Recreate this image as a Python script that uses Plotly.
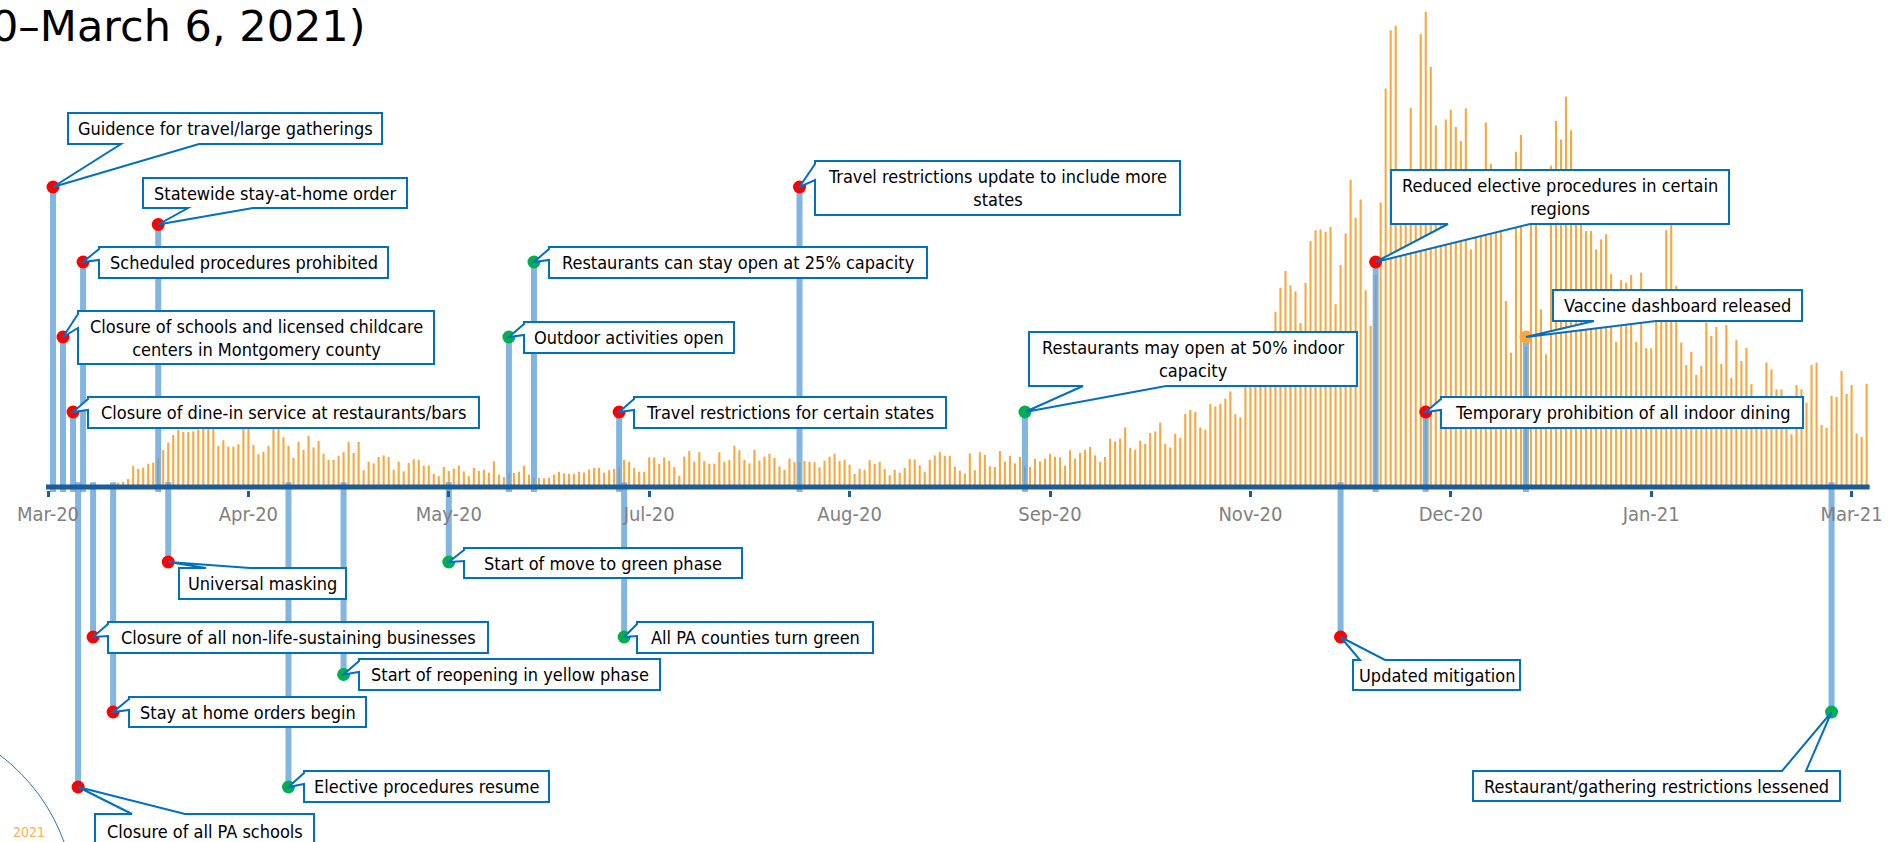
import plotly.graph_objects as go
import pandas as pd

# ---------------- data ----------------
AXIS_START = "2020-03-10"          # first category of the date axis
BAR_START = "2020-03-24"           # first day with a visible bar
DAILY_CASES = [
    110, 130, 200, 530, 450, 480, 580, 610, 710, 920,
    1110, 1300, 1430, 1380, 1380, 1390, 1440, 1600, 1650, 1550,
    1030, 1170, 1010, 1010, 1070, 1620, 1580, 1050, 820, 880,
    1030, 1520, 1540, 1240, 1030, 730, 1130, 930, 1280, 990,
    1150, 830, 680, 680, 780, 870, 1130, 850, 1130, 420,
    630, 590, 750, 790, 750, 430, 630, 390, 600, 690,
    680, 530, 540, 330, 270, 500, 400, 460, 540, 390,
    270, 480, 400, 430, 360, 640, 310, 250, 360, 350,
    380, 530, 310, 220, 230, 220, 230, 310, 380, 340,
    330, 330, 380, 360, 440, 480, 480, 360, 420, 450,
    510, 680, 630, 480, 380, 380, 740, 740, 580, 740,
    650, 500, 280, 760, 900, 630, 870, 650, 580, 580,
    870, 630, 670, 1030, 920, 680, 590, 930, 660, 760,
    830, 730, 510, 430, 710, 620, 630, 650, 630, 620,
    490, 660, 760, 830, 650, 680, 560, 330, 450, 430,
    670, 580, 630, 450, 290, 430, 360, 480, 700, 690,
    540, 380, 680, 790, 870, 780, 780, 510, 410, 340,
    840, 420, 870, 800, 520, 500, 900, 630, 780, 590,
    750, 530, 500, 700, 640, 710, 830, 760, 740, 530,
    920, 710, 850, 930, 1000, 790, 630, 750, 1210, 1140,
    1210, 1490, 980, 930, 1160, 1080, 1350, 1390, 1610, 1080,
    990, 1330, 1230, 1830, 1930, 1880, 1490, 1430, 2080, 2010,
    2080, 2210, 2390, 1820, 1740, 2630, 2880, 3130, 2750, 3380,
    3900, 4380, 4980, 5400, 5040, 4890,
    4100, 5100, 6150, 6420, 6440, 6380, 6500, 4570, 5550, 6340,
    7680, 6730, 7190, 4920, 4030, 5300, 7110, 9960, 11420, 11530,
    7250, 7000, 9480, 7500, 11320, 11880, 10500, 9040, 7250, 9190,
    9430, 9000, 8650, 9470, 5940, 7000, 6750, 9110, 8080, 6750,
    6800, 4650, 3360, 8380, 8800, 3500, 6880, 6750, 4440, 3320,
    8030, 9150, 8690, 9760, 8920, 6750, 6620, 6400, 6400, 5940,
    6190, 6320, 5320, 3630, 5170, 5110, 5300, 3630, 5360, 3470,
    3470, 4500, 4380, 6420, 6550, 5030, 3610, 3050, 3380, 2800,
    3030, 4110, 3780, 4000, 3080, 4050, 2730, 3670, 3150, 3480,
    2570, 2000, 2130, 3110, 2940, 2440, 2440, 2000, 1320, 2550,
    2440, 2110, 3050, 3110, 1550, 1480, 2280, 2250, 2900, 2330,
    2550, 1340, 1250, 2580,
]

EVENT_TEXT = [
    "Guidence for travel/large gatherings",
    "Closure of schools and licensed childcare<br>centers in Montgomery county",
    "Closure of dine-in service at restaurants/bars",
    "Scheduled procedures prohibited",
    "Statewide stay-at-home order",
    "Outdoor activities open",
    "Restaurants can stay open at 25% capacity",
    "Travel restrictions for certain states",
    "Travel restrictions update to include more<br>states",
    "Restaurants may open at 50% indoor<br>capacity",
    "Reduced elective procedures in certain<br>regions",
    "Temporary prohibition of all indoor dining",
    "Vaccine dashboard released",
    "Closure of all PA schools",
    "Closure of all non-life-sustaining businesses",
    "Stay at home orders begin",
    "Universal masking",
    "Elective procedures resume",
    "Start of reopening in yellow phase",
    "Start of move to green phase",
    "All PA counties turn green",
    "Updated mitigation",
    "Restaurant/gathering restrictions lessened",
]
EVENT_DATE = [
    "2020-03-11", "2020-03-13", "2020-03-15", "2020-03-17", "2020-04-01",
    "2020-06-10", "2020-06-15", "2020-07-02", "2020-08-07", "2020-09-21",
    "2020-11-30", "2020-12-10", "2020-12-30",
    "2020-03-16", "2020-03-19", "2020-03-23", "2020-04-03", "2020-04-27",
    "2020-05-08", "2020-05-29", "2020-07-03", "2020-11-23", "2021-03-01",
]
EVENT_LEVEL = [8, 4, 2, 6, 7, 4, 6, 2, 8, 2, 6, 2, 4,
               -8, -4, -6, -2, -8, -5, -2, -4, -4, -6]
EVENT_KIND = ["restrict", "restrict", "restrict", "restrict", "restrict",
              "ease", "ease", "restrict", "restrict", "ease", "restrict",
              "restrict", "info",
              "restrict", "restrict", "restrict", "restrict", "ease", "ease",
              "ease", "ease", "restrict", "ease"]

# ---------------- styles / layout ----------------
W, H = 1901, 842
ZERO_PX = 487.0          # pixel row of the time axis
PX_PER_DAY = 5.01
FIRST_TICK_PX = 48.0
CASES_PER_PX = 25.0
LEVEL_PX = 37.5

KIND_COLOR = {"restrict": "#FF0000", "ease": "#00B050", "info": "#F9A73E"}
BAR_COLOR = "#F9A73E"
STEM_COLOR = "rgba(95,160,215,0.78)"
AXIS_COLOR = "#1B5C99"
BOX_COLOR = "#0070C0"
FONT = "DejaVu Sans Condensed, DejaVu Sans, sans-serif"

# callout boxes (pixel layout): x0, x1, top, bottom, wedge side, wedge base a, b
CALLOUT_BOX = [
    (68, 382, 113, 144, "bottom", 121, 199),
    (78, 434, 311, 364, "left", 314, 328),
    (88, 479, 397, 428, "left", 399, 410),
    (99, 388, 247, 278, "left", 249, 260),
    (143, 407, 178, 208, "bottom", 188, 253),
    (524, 734, 322, 353, "left", 324, 335),
    (549, 927, 247, 278, "left", 249, 260),
    (634, 946, 397, 428, "left", 399, 410),
    (815, 1180, 161, 215, "left", 164, 180),
    (1029, 1357, 332, 386, "bottom", 1083, 1166),
    (1391, 1729, 170, 224, "bottom", 1448, 1530),
    (1441, 1803, 397, 428, "left", 399, 410),
    (1553, 1802, 290, 321, "bottom", 1594, 1656),
    (95, 314, 814, 848, "top", 132, 185),
    (108, 488, 622, 653, "left", 624, 636),
    (129, 366, 697, 727, "left", 699, 710),
    (179, 346, 568, 599, "top", 206, 250),
    (304, 549, 771, 802, "left", 773, 784),
    (359, 660, 659, 690, "left", 661, 672),
    (464, 742, 548, 578, "left", 550, 561),
    (637, 873, 622, 653, "left", 624, 636),
    (1353, 1520, 660, 690, "top", 1360, 1385),
    (1473, 1840, 771, 801, "top", 1782, 1806),
]

# ---------------- derived axis geometry ----------------
d0 = pd.Timestamp(AXIS_START)
X_RANGE = [-FIRST_TICK_PX / PX_PER_DAY, (W - FIRST_TICK_PX) / PX_PER_DAY]
Y_RANGE = [-(H - ZERO_PX) * CASES_PER_PX, ZERO_PX * CASES_PER_PX]
Y2_RANGE = [-(H - ZERO_PX) / LEVEL_PX, ZERO_PX / LEVEL_PX]


def px_x(px):
    return X_RANGE[0] + px * (X_RANGE[1] - X_RANGE[0]) / W


def px_lev(py):
    return Y2_RANGE[1] - py * (Y2_RANGE[1] - Y2_RANGE[0]) / H


bar_dates = pd.date_range(BAR_START, periods=len(DAILY_CASES), freq="D")
bar_x = [(d - d0).days for d in bar_dates]
ev_x = [(pd.Timestamp(d) - d0).days for d in EVENT_DATE]

fig = go.Figure()

fig.add_trace(go.Bar(
    x=bar_x, y=DAILY_CASES, width=0.42, marker=dict(color=BAR_COLOR, line=dict(width=0)),
    hoverinfo="skip", yaxis="y"))

stem_x, stem_y = [], []
for x, lv in zip(ev_x, EVENT_LEVEL):
    stem_x += [x, x, None]
    stem_y += [lv, -0.13 if lv > 0 else 0.13, None]
fig.add_trace(go.Scatter(x=stem_x, y=stem_y, mode="lines", yaxis="y2",
                         line=dict(color=STEM_COLOR, width=6), hoverinfo="skip"))

for kind, col in KIND_COLOR.items():
    idx = [i for i, k in enumerate(EVENT_KIND) if k == kind]
    fig.add_trace(go.Scatter(
        x=[ev_x[i] for i in idx], y=[EVENT_LEVEL[i] for i in idx], mode="markers",
        yaxis="y2", marker=dict(size=13, color=col, line=dict(width=0)), hoverinfo="skip"))

shapes = [dict(type="line", xref="x", yref="y2", x0=-0.4, x1=bar_x[-1] + 0.6,
               y0=0, y1=0, line=dict(color=AXIS_COLOR, width=5), layer="above")]
annotations = []

for text, box, ex, lv in zip(EVENT_TEXT, CALLOUT_BOX, ev_x, EVENT_LEVEL):
    x0, x1, yt, yb, side, a, b = box
    X0, X1, YT, YB = px_x(x0), px_x(x1), px_lev(yt), px_lev(yb)
    tip = (ex, lv)
    if side == "bottom":
        pts = [(X0, YT), (X1, YT), (X1, YB), (px_x(b), YB), tip, (px_x(a), YB), (X0, YB)]
    elif side == "top":
        pts = [(X0, YT), (px_x(a), YT), tip, (px_x(b), YT), (X1, YT), (X1, YB), (X0, YB)]
    else:
        pts = [(X0, YT), (X1, YT), (X1, YB), (X0, YB), (X0, px_lev(b)), tip, (X0, px_lev(a))]
    path = "M " + " L ".join(f"{p[0]:.4f},{p[1]:.4f}" for p in pts) + " Z"
    shapes.append(dict(type="path", xref="x", yref="y2", path=path,
                       fillcolor="white", line=dict(color=BOX_COLOR, width=2), layer="above"))
    annotations.append(dict(x=(X0 + X1) / 2, y=(YT + YB) / 2, xref="x", yref="y2",
                            text=text, showarrow=False, align="center",
                            font=dict(family=FONT, size=18, color="#000000")))

# decorative arc and footer text of the slide
shapes.append(dict(type="path", xref="paper", yref="paper",
                   path=f"M 0,{1 - 755 / H:.4f} Q {45 / W:.4f},{1 - 790 / H:.4f} {64 / W:.4f},0",
                   line=dict(color="#2E75B6", width=1)))
annotations.append(dict(x=29 / W, y=0, xref="paper", yref="paper", xanchor="center",
                        yanchor="bottom", yshift=0, text="2021", showarrow=False,
                        font=dict(family=FONT, size=14, color="#F7B155")))
annotations.append(dict(x=368 / W, y=1, xref="paper", yref="paper", xanchor="right",
                        yanchor="top", yshift=1, text="0–March 6, 2021)", showarrow=False,
                        font=dict(family="DejaVu Sans, sans-serif", size=43, color="#000000")))

tick_vals = list(range(0, 361, 40))
tick_text = [(d0 + pd.Timedelta(days=v)).strftime("%b-%y") for v in tick_vals]

fig.update_layout(
    width=W, height=H, margin=dict(l=0, r=0, t=0, b=0),
    paper_bgcolor="white", plot_bgcolor="white", showlegend=False,
    xaxis=dict(range=X_RANGE, tickvals=tick_vals, ticktext=tick_text, showgrid=False,
               zeroline=False, showline=False, ticks="outside", ticklen=6, tickwidth=3,
               tickcolor=AXIS_COLOR, anchor="free", position=1 - 489.5 / H,
               tickfont=dict(family=FONT, size=20, color="#7F7F7F"), fixedrange=True),
    yaxis=dict(range=Y_RANGE, visible=False, fixedrange=True),
    yaxis2=dict(range=Y2_RANGE, visible=False, overlaying="y", fixedrange=True),
    shapes=shapes, annotations=annotations,
)

fig.write_html("out.html", config={"displayModeBar": False},
               post_script="document.body.style.margin='0';document.body.style.overflow='hidden';")
